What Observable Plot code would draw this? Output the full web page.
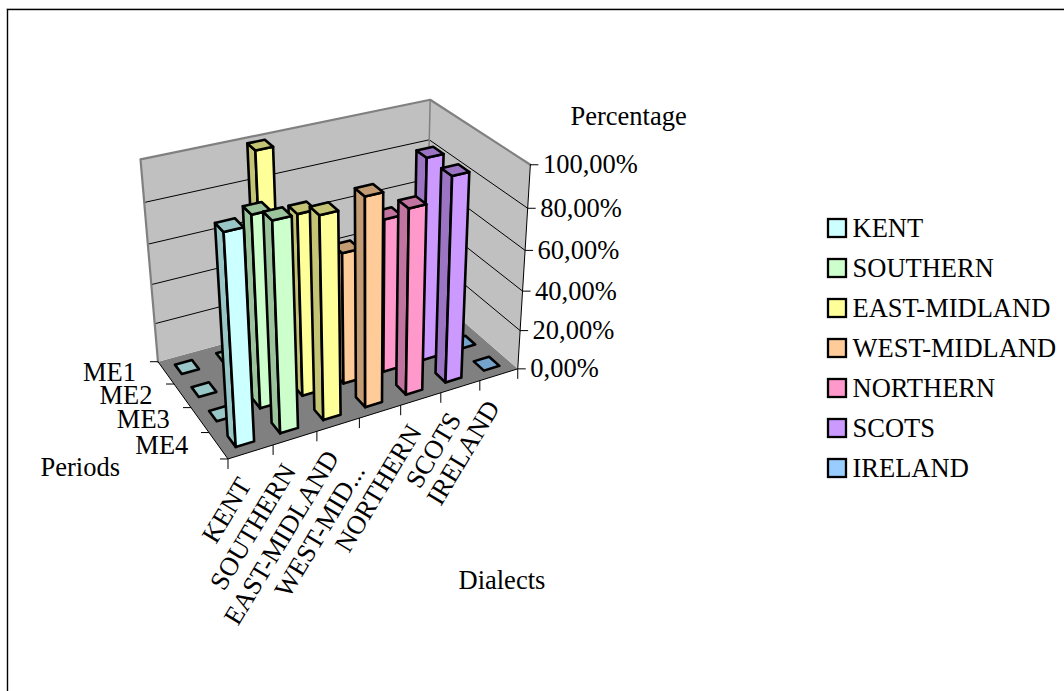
<!DOCTYPE html>
<html>
<head>
<meta charset="utf-8">
<script src="https://cdn.jsdelivr.net/npm/d3@7"></script>
<script src="https://cdn.jsdelivr.net/npm/@observablehq/plot@0.6"></script>
<style>
html,body{margin:0;padding:0;background:#fff}
svg{display:block}
</style>
</head>
<body>
<div id="chart"></div>
<script>
// Dialect shares per period, in percent
const periods = ["ME1", "ME2", "ME3", "ME4"];
const dialects = ["KENT", "SOUTHERN", "EAST-MIDLAND", "WEST-MIDLAND", "NORTHERN", "SCOTS", "IRELAND"];
const axisDialects = ["KENT", "SOUTHERN", "EAST-MIDLAND", "WEST-MID...", "NORTHERN", "SCOTS", "IRELAND"];
const kent = [0, 0, 0, 99];
const southern = [0, 0, 92.5, 99];
const eastMidland = [100, 0, 88, 96.5];
const westMidland = [0, 0, 65, 100];
const northern = [0, 0, 76, 90];
const scots = [0, 0, 100, 100];
const ireland = [0, 0, 0, 0];
const seriesValues = [kent, southern, eastMidland, westMidland, northern, scots, ireland];
const percentTicks = [0, 20, 40, 60, 80, 100];
const percentLabels = ["0,00%", "20,00%", "40,00%", "60,00%", "80,00%", "100,00%"];

// Face colours: front face, and the shaded side and top
const frontColors = ["#CCFFFF", "#CCFFCC", "#FFFF99", "#FFCC99", "#FF99CC", "#CC99FF", "#99CCFF"];
const shadeColors = ["#99C6C6", "#9CC49C", "#C4C474", "#C49C74", "#C274A0", "#9C74C4", "#74A4CC"];

// Perspective camera: fitted from where known corners of the plot box land on the page
const cameraAnchors = [
  [0, 0, 0, 157, 360], [1, 0, 0, 428, 290], [0, 1, 0, 228, 460], [1, 1, 0, 515, 367],
  [0, 0, 1, 140, 159], [1, 0, 1, 428, 98], [1, 1, 1, 531, 165],
  [0, 0, 0.8, 145, 203], [1, 0, 0.8, 428, 140], [1, 1, 0.8, 528, 207], [0, 0, 0.2, 153, 322]
];

function solve(A, b) {
  const n = b.length, M = A.map((r, i) => [...r, b[i]]);
  for (let c = 0; c < n; c++) {
    let piv = c;
    for (let r = c + 1; r < n; r++) if (Math.abs(M[r][c]) > Math.abs(M[piv][c])) piv = r;
    [M[c], M[piv]] = [M[piv], M[c]];
    for (let r = 0; r < n; r++) {
      if (r === c) continue;
      const f = M[r][c] / M[c][c];
      for (let k = c; k <= n; k++) M[r][k] -= f * M[c][k];
    }
  }
  return M.map((r, i) => r[n] / r[i]);
}

function fitCamera(anchors) {
  const rows = [], rhs = [];
  for (const [d, p, z, X, Y] of anchors) {
    rows.push([d, p, z, 1, 0, 0, 0, 0, -X * d, -X * p, -X * z]); rhs.push(X);
    rows.push([0, 0, 0, 0, d, p, z, 1, -Y * d, -Y * p, -Y * z]); rhs.push(Y);
  }
  const n = 11;
  const AtA = d3.range(n).map(i => d3.range(n).map(j => d3.sum(rows, r => r[i] * r[j])));
  const Atb = d3.range(n).map(i => d3.sum(rows, (r, k) => r[i] * rhs[k]));
  return solve(AtA, Atb);
}

const cam = fitCamera(cameraAnchors);
function project(d, p, z) {
  const w = cam[8] * d + cam[9] * p + cam[10] * z + 1;
  return {
    x: (cam[0] * d + cam[1] * p + cam[2] * z + cam[3]) / w,
    y: (cam[4] * d + cam[5] * p + cam[6] * z + cam[7]) / w
  };
}

const faces = [];
function addFace(list, id, fill, corners) {
  for (const [d, p, z] of corners) list.push({...project(d, p, z), face: id, fill});
}

// Walls and floor of the box
const box = [];
addFace(box, "floor", "#808080", [[0, 0, 0], [1, 0, 0], [1, 1, 0], [0, 1, 0]]);
addFace(box, "back", "#C0C0C0", [[0, 0, 0], [1, 0, 0], [1, 0, 1], [0, 0, 1]]);
addFace(box, "right", "#C0C0C0", [[1, 0, 0], [1, 1, 0], [1, 1, 1], [1, 0, 1]]);

// Bars are painted from the far corner forwards
const nd = dialects.length, np = periods.length;
const halfW = 0.205 / nd, halfD = 0.21 / np;
for (let pi = 0; pi < np; pi++) {
  for (let di = nd - 1; di >= 0; di--) {
    const v = seriesValues[di][pi] / 100;
    const dc = (di + 0.5) / nd, pc = (pi + 0.5) / np;
    const d0 = dc - halfW, d1 = dc + halfW, p0 = pc - halfD, p1 = pc + halfD;
    const id = `${di}-${pi}`;
    if (v > 0) {
      addFace(faces, id + "L", shadeColors[di], [[d0, p0, 0], [d0, p1, 0], [d0, p1, v], [d0, p0, v]]);
      addFace(faces, id + "F", frontColors[di], [[d0, p1, 0], [d1, p1, 0], [d1, p1, v], [d0, p1, v]]);
    }
    addFace(faces, id + "T", shadeColors[di], [[d0, p0, v], [d1, p0, v], [d1, p1, v], [d0, p1, v]]);
  }
}

// Gridlines run along the back wall and round the right wall
const grid = [];
for (const t of percentTicks.slice(1, -1)) {
  for (const c of [[0, 0], [1, 0], [1, 1]]) grid.push({...project(c[0], c[1], t / 100), t});
}
const topEdge = [[0, 0, 0], [0, 0, 1], [1, 0, 1], [1, 1, 1]].map(c => project(...c));
const innerEdge = [[1, 0, 0], [1, 0, 1]].map(c => project(...c));
const frontEdges = [[0, 0, 0], [0, 1, 0], [1, 1, 0], [1, 1, 1]].map(c => project(...c));

// Tick marks
const tickLen = 8;
const zTicks = percentTicks.map((t, i) => ({...project(1, 1, t / 100), label: percentLabels[i]}));
const pTicks = d3.range(np + 1).map(i => project(0, i / np, 0));
const dTicks = d3.range(nd + 1).map(i => project(i / nd, 1, 0));
const pLabels = periods.map((label, i) => ({...project(0, (i + 0.5) / np, 0), label}));

// The shortened label sits further down its slanted line than the others
const slantDeg = 59;
const slant = slantDeg * Math.PI / 180;
const dLabels = axisDialects.map((label, i) => {
  const pt = project((i + 0.5) / nd, 1, 0);
  const along = label.endsWith("...") ? 36 : 5;
  return {x: pt.x - 3 - along * Math.cos(slant), y: pt.y + 24 + along * Math.sin(slant), label};
});

const legend = dialects.map((label, i) => ({label, i, fill: frontColors[i]}));
const legendY = d => 228 + d.i * 40;

const font = "Liberation Serif, Times New Roman, serif";
const fs = 26.5;

const chart = Plot.plot({
  width: 1064,
  height: 691,
  margin: 0,
  x: {domain: [0, 1064], range: [0, 1064], axis: null},
  y: {domain: [0, 691], range: [0, 691], axis: null},
  color: {type: "identity"},
  style: {fontFamily: font, background: "#fff"},
  marks: [
    Plot.ruleY([8.5], {x1: 6, x2: 1070, stroke: "#b8b8b8", strokeWidth: 1}),
    Plot.rect([{}], {x1: 7.5, x2: 1075, y1: 9.5, y2: 700, fill: "#fff", stroke: "#000", strokeWidth: 1.4}),
    Plot.line(box, {x: "x", y: "y", z: "face", fill: "fill", stroke: "none", curve: "linear-closed"}),
    Plot.line(grid, {x: "x", y: "y", z: "t", stroke: "#000", strokeWidth: 1}),
    Plot.line(topEdge, {x: "x", y: "y", stroke: "#808080", strokeWidth: 2.2}),
    Plot.line(innerEdge, {x: "x", y: "y", stroke: "#808080", strokeWidth: 1.5}),
    Plot.line(frontEdges, {x: "x", y: "y", stroke: "#000", strokeWidth: 1}),
    Plot.line(faces, {x: "x", y: "y", z: "face", fill: "fill", stroke: "#000", strokeWidth: 2.6, strokeLinejoin: "round", curve: "linear-closed"}),
    Plot.link(zTicks, {x1: "x", x2: d => d.x + tickLen, y1: "y", y2: "y", stroke: "#000", strokeWidth: 1}),
    Plot.link(pTicks, {x1: "x", x2: d => d.x - tickLen, y1: "y", y2: "y", stroke: "#000", strokeWidth: 1}),
    Plot.link(dTicks, {x1: "x", x2: "x", y1: "y", y2: d => d.y + tickLen + 2, stroke: "#000", strokeWidth: 1}),
    Plot.text(zTicks, {x: d => d.x + 12.5, y: "y", text: "label", textAnchor: "start", fontSize: fs, fill: "#000"}),
    Plot.text(pLabels, {x: d => d.x - 30, y: "y", text: "label", textAnchor: "end", fontSize: fs, fill: "#000"}),
    Plot.text(dLabels, {x: "x", y: "y", text: "label", textAnchor: "end", rotate: -slantDeg, fontSize: fs, fill: "#000"}),
    Plot.text([{label: "Periods"}], {x: 40, y: 467, text: "label", textAnchor: "start", fontSize: fs, fill: "#000"}),
    Plot.text([{label: "Dialects"}], {x: 458, y: 580, text: "label", textAnchor: "start", fontSize: fs, fill: "#000"}),
    Plot.text([{label: "Percentage"}], {x: 570, y: 116, text: "label", textAnchor: "start", fontSize: fs, fill: "#000"}),
    Plot.rect(legend, {x1: 828, x2: 846, y1: d => legendY(d) - 9, y2: d => legendY(d) + 9, fill: "fill", stroke: "#000", strokeWidth: 2.3}),
    Plot.text(legend, {x: 852, y: legendY, text: "label", textAnchor: "start", fontSize: fs, fill: "#000"})
  ]
});
document.getElementById("chart").append(chart);
</script>
</body>
</html>
